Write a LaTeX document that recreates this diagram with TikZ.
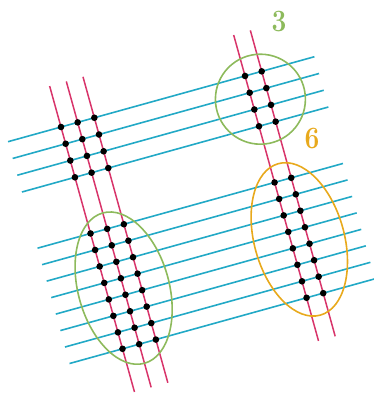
\documentclass[tikz,border=0pt]{standalone}
\usepackage{graphicx}
\definecolor{cyanline}{HTML}{22A9C6}
\definecolor{redline}{HTML}{D8346A}
\definecolor{greenring}{HTML}{8DBA5C}
\definecolor{orangering}{HTML}{E8A91C}
\tikzset{
  cyanl/.style={draw=cyanline, line width=1.6pt},
  redl/.style={draw=redline, line width=1.5pt},
  ring/.style={line width=1.6pt},
  dotmark/.style={circle, fill=black, inner sep=0pt, minimum size=6.6pt},
  numlabel/.style={inner sep=0pt, font=\fontsize{31}{31}\selectfont\bfseries}
}
\begin{document}
\begin{tikzpicture}[x=1pt, y=-1pt]
\useasboundingbox (0,0) rectangle (374,394);
\begin{scope}[shift={(61,127)}, rotate=15.5]
  % cyan lines
  \foreach \k in {0,1,2,3} {
    \coordinate (tl\k) at (-55, 17.4*\k);
    \coordinate (tr\k) at (263, 17.4*\k);
    \draw[cyanl] (tl\k) -- (tr\k);
  }
  \foreach \k in {0,...,7} {
    \coordinate (bl\k) at (-55, 110.5+17.1*\k);
    \coordinate (br\k) at (262, 110.5+17.1*\k);
    \draw[cyanl] (bl\k) -- (br\k);
  }
  % red lines
  \foreach \j/\u in {0/0, 1/17.3, 2/34.6, 3/191, 4/208.3} {
    \coordinate (rt\j) at (\u, -42.5);
    \coordinate (rb\j) at (\u, 275);
    \draw[redl] (rt\j) -- (rb\j);
  }
  % rings
  \node[draw=greenring, ring, circle, minimum size=90pt, inner sep=0pt] (ringA) at (199.6, 26.5) {};
  \draw[draw=orangering, ring] (199.6, 172) ellipse [x radius=45, y radius=78.6];
  \draw[draw=greenring, ring] (17.3, 172) ellipse [x radius=45.5, y radius=78];
  % dots
  \foreach \j/\u in {0/0, 1/17.3, 2/34.6, 3/191, 4/208.3} {
    \foreach \k in {0,1,2,3} {
      \node[dotmark] (dt\j\k) at (\u, 17.4*\k) {};
    }
    \foreach \k in {0,...,7} {
      \node[dotmark] (db\j\k) at (\u, 110.5+17.1*\k) {};
    }
  }
\end{scope}
\node[numlabel, text=greenring] (three) at (279,22) {\scalebox{0.85}[1]{3}};
\node[numlabel, text=orangering] (six) at (312,139) {\scalebox{0.85}[1]{6}};
\end{tikzpicture}
\end{document}
